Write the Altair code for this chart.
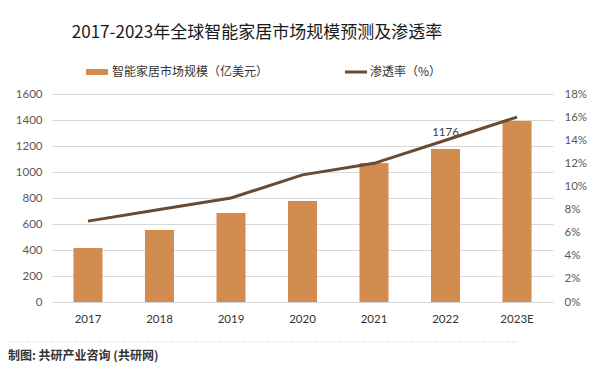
import altair as alt
import pandas as pd

years = ["2017", "2018", "2019", "2020", "2021", "2022", "2023E"]
market = [415, 554, 685, 777, 1069, 1176, 1392]
rate = [0.07, 0.08, 0.09, 0.11, 0.12, 0.14, 0.16]
left_ticks = [0, 200, 400, 600, 800, 1000, 1200, 1400, 1600]
right_ticks = [0, 0.02, 0.04, 0.06, 0.08, 0.10, 0.12, 0.14, 0.16, 0.18]

title_text = "2017-2023年全球智能家居市场规模预测及渗透率"
bar_name = "智能家居市场规模（亿美元）"
line_name = "渗透率（%）"
source_text = "制图: 共研产业咨询 (共研网)"

df = pd.DataFrame({"year": years, "market": market, "rate": rate})
one = pd.DataFrame({"k": [0]})

FN = "Lato"
FC = "Noto Sans CJK SC"
BAR = "#D38C50"
LINE = "#6B4A2F"

x = alt.X("year:N", sort=years, title=None,
          scale=alt.Scale(paddingInner=0.594, paddingOuter=0.3),
          axis=alt.Axis(labelAngle=0, ticks=False, domain=False, labelPadding=11,
                        labelFont=FN, labelFontSize=11.5, labelColor="#333333"))

y_left = alt.Y("market:Q", title=None, scale=alt.Scale(domain=[0, 1600]),
               axis=alt.Axis(values=left_ticks, format="d", grid=True, gridColor="#d9d9d9",
                             domain=False, ticks=False, labelPadding=10, labelColor="#595959",
                             labelFontSize=11.5, labelFont=FN))

bars = alt.Chart(df).mark_bar(color=BAR).encode(x=x, y=y_left)

label = alt.Chart(df).transform_filter(alt.datum.year == "2022").mark_text(
    dy=-16, font=FN, fontSize=11.5, color="#404040"
).encode(x=x, y=y_left, text=alt.Text("market:Q", format="d"))

bar_layer = alt.layer(bars, label)

line = alt.Chart(df).mark_line(color=LINE, strokeWidth=3).encode(
    x=x,
    y=alt.Y("rate:Q", title=None, scale=alt.Scale(domain=[0, 0.18]),
            axis=alt.Axis(orient="right", values=right_ticks, format=".0%", grid=False,
                          domain=False, ticks=False, labelPadding=11, labelColor="#595959",
                          labelFontSize=11.5, labelFont=FN)),
)

title = alt.Chart(one).mark_text(text=title_text, font=FC, fontSize=17, color="#1a1a1a",
                                 baseline="middle", align="center").encode(
    x=alt.value(205), y=alt.value(-61))

sw1 = alt.Chart(one).mark_rect(color=BAR).encode(
    x=alt.value(34), x2=alt.value(56), y=alt.value(-25), y2=alt.value(-19))
t1 = alt.Chart(one).mark_text(text=bar_name, font=FC, fontSize=12, color="#333333",
                              align="left", baseline="middle").encode(
    x=alt.value(60), y=alt.value(-22))
sw2 = alt.Chart(one).mark_rule(color=LINE, strokeWidth=3).encode(
    x=alt.value(293), x2=alt.value(315), y=alt.value(-22))
t2 = alt.Chart(one).mark_text(text=line_name, font=FC, fontSize=12, color="#333333",
                              align="left", baseline="middle").encode(
    x=alt.value(318), y=alt.value(-22))

sep = alt.Chart(one).mark_rule(color="#cccccc", strokeWidth=1, strokeDash=[1, 2]).encode(
    x=alt.value(-44), x2=alt.value(464), y=alt.value(248))
src = alt.Chart(one).mark_text(text=source_text, font=FC, fontSize=12, fontWeight="bold",
                               color="#333333", align="left", baseline="middle").encode(
    x=alt.value(-44), y=alt.value(262))

chart = alt.layer(bar_layer, line, title, sw1, t1, sw2, t2, sep, src).resolve_scale(
    y="independent"
).properties(
    width=501, height=208,
    autosize=alt.AutoSizeParams(type="none"),
    padding={"left": 44, "top": 86, "right": 38, "bottom": 62},
    background="white",
).configure_view(stroke=None)

chart.save("out.html", embed_options={"renderer": "svg", "actions": False})
